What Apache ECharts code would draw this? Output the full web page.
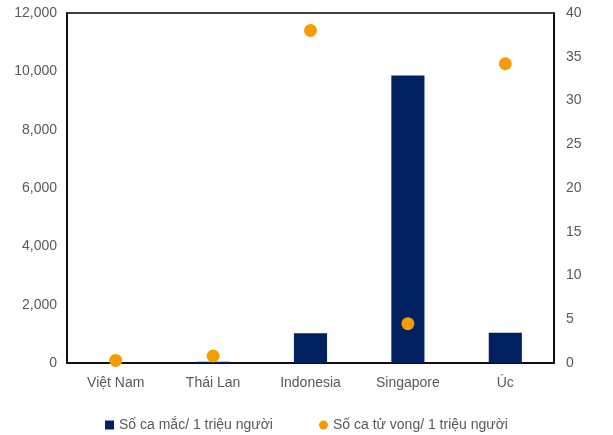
<!DOCTYPE html>
<html><head><meta charset="utf-8">
<script src="https://cdn.jsdelivr.net/npm/echarts@6/dist/echarts.min.js"></script>
<style>html,body{margin:0;padding:0;background:#fff}#c{width:613px;height:435px}</style>
</head><body><div id="c"></div>
<script>
const categories = ['Việt Nam', 'Thái Lan', 'Indonesia', 'Singapore', 'Úc'];
const casesPerMillion = [3, 40, 1020, 9860, 1040];
const deathsPerMillion = [0.3, 0.8, 38.0, 4.5, 34.2];
const leftTicks = [0, 2000, 4000, 6000, 8000, 10000, 12000];
const rightTicks = [0, 5, 10, 15, 20, 25, 30, 35, 40];

const font = 'Liberation Sans, Arial, sans-serif';
const chart = echarts.init(document.getElementById('c'));
chart.setOption({
  animation: false,
  grid: { left: 67, right: 59, top: 13, bottom: 72, show: true, borderColor: '#000', borderWidth: 1.5 },
  legend: {
    top: 413, left: 'center', itemGap: 46, itemWidth: 9, itemHeight: 9,
    textStyle: { fontFamily: font, fontSize: 14, color: '#595959' },
    data: [
      { name: 'Số ca mắc/ 1 triệu người', icon: 'rect' },
      { name: 'Số ca tử vong/ 1 triệu người', icon: 'circle' }
    ]
  },
  xAxis: {
    type: 'category', data: categories,
    axisLine: { lineStyle: { color: '#000', width: 1.5 } },
    axisTick: { show: false },
    axisLabel: { fontFamily: font, fontSize: 14, color: '#595959', margin: 13 }
  },
  yAxis: [
    { type: 'value', min: leftTicks[0], max: leftTicks[leftTicks.length - 1], interval: 2000,
      splitLine: { show: false }, axisLine: { show: true, lineStyle: { color: '#000', width: 1.5 } }, axisTick: { show: false },
      axisLabel: { fontFamily: font, fontSize: 14, color: '#595959', margin: 10,
        formatter: v => v.toLocaleString('en-US') } },
    { type: 'value', min: rightTicks[0], max: rightTicks[rightTicks.length - 1], interval: 5,
      splitLine: { show: false }, axisLine: { show: true, lineStyle: { color: '#000', width: 1.5 } }, axisTick: { show: false },
      axisLabel: { fontFamily: font, fontSize: 14, color: '#595959', margin: 12 } }
  ],
  series: [
    { name: 'Số ca mắc/ 1 triệu người', type: 'bar', data: casesPerMillion, yAxisIndex: 0,
      barWidth: '34%', itemStyle: { color: '#002060' } },
    { name: 'Số ca tử vong/ 1 triệu người', type: 'scatter', data: deathsPerMillion, yAxisIndex: 1,
      symbol: 'circle', symbolSize: 13, itemStyle: { color: '#F59C00', opacity: 1 } }
  ]
});
</script></body></html>
